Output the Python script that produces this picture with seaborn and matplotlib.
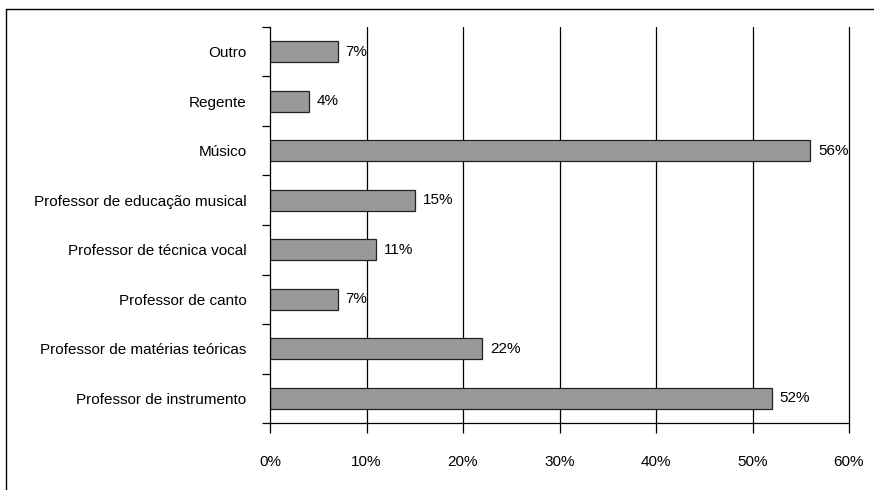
import matplotlib
matplotlib.use("Agg")
import matplotlib.pyplot as plt
import seaborn as sns
import pandas as pd
import numpy as np
from matplotlib.lines import Line2D

categories = [
    "Outro",
    "Regente",
    "Músico",
    "Professor de educação musical",
    "Professor de técnica vocal",
    "Professor de canto",
    "Professor de matérias teóricas",
    "Professor de instrumento",
]
values = [7, 4, 56, 15, 11, 7, 22, 52]
x_ticks = [0, 10, 20, 30, 40, 50, 60]
x_tick_labels = ["0%", "10%", "20%", "30%", "40%", "50%", "60%"]

df = pd.DataFrame({"categoria": categories, "pct": values})

sns.set_style("white")
plt.rcParams["font.family"] = ["Liberation Sans", "DejaVu Sans"]
plt.rcParams["font.size"] = 11
plt.rcParams["text.color"] = "black"
plt.rcParams["xtick.color"] = "black"
plt.rcParams["ytick.color"] = "black"
plt.rcParams["xtick.labelcolor"] = "black"
plt.rcParams["ytick.labelcolor"] = "black"

fig = plt.figure(figsize=(8.74, 4.9), dpi=100)
ax = fig.add_axes([270 / 874, 1 - 423 / 490, (849 - 270) / 874, (423 - 27) / 490])

sns.barplot(data=df, x="pct", y="categoria", order=categories, color="#999999",
            saturation=1, width=0.42, edgecolor="#222222", linewidth=0.9, ax=ax)

ax.set_xlim(0, 60)
ax.set_ylim(len(categories) - 0.5, -0.5)
ax.set_xlabel("")
ax.set_ylabel("")

# vertical gridlines at every 10%
for t in x_ticks[1:-1]:
    ax.axvline(t, color="black", linewidth=0.9, zorder=0)

ax.set_xticks(x_ticks)
ax.set_xticklabels(x_tick_labels, fontsize=11)
ax.tick_params(axis="x", bottom=True, direction="out", length=7, width=0.9, pad=16,
               colors="black")

# y: ticks at category boundaries, labels at centres
bounds = np.arange(-0.5, len(categories), 1.0)
ax.set_yticks(bounds)
ax.set_yticklabels([])
ax.tick_params(axis="y", which="major", left=True, direction="out", length=6, width=0.9,
               colors="black")
ax.set_yticks(np.arange(len(categories)), minor=True)
ax.set_yticklabels(categories, minor=True, fontsize=11)
ax.tick_params(axis="y", which="minor", left=True, length=0, pad=17, colors="black")

ax.spines["top"].set_visible(False)
for side in ["left", "bottom", "right"]:
    ax.spines[side].set_visible(True)
    ax.spines[side].set_color("black")
    ax.spines[side].set_linewidth(0.9)

for i, v in enumerate(values):
    ax.text(v + 0.8, i, f"{v}%", va="center", ha="left", fontsize=11, color="black")

# outer frame of the figure
fig.add_artist(Line2D([6 / 874, 1], [1 - 9 / 490, 1 - 9 / 490], transform=fig.transFigure,
                      color="black", linewidth=1.0))
fig.add_artist(Line2D([6 / 874, 6 / 874], [0, 1 - 9 / 490], transform=fig.transFigure,
                      color="black", linewidth=1.0))

fig.savefig("out.png", dpi=100)
